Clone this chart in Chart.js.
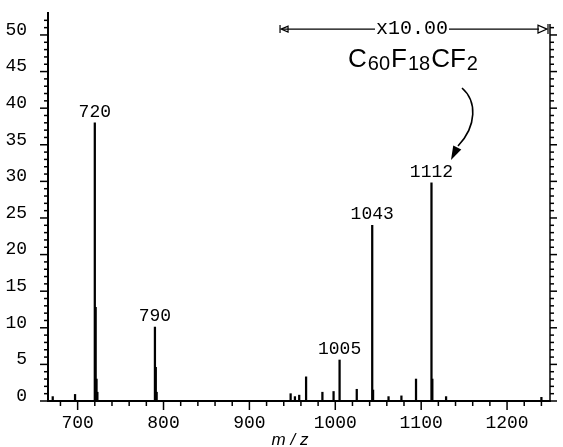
<!DOCTYPE html>
<html>
<head>
<meta charset="utf-8">
<script src="https://cdn.jsdelivr.net/npm/chart.js@4.4.0/dist/chart.umd.min.js"></script>
<style>
  html, body { margin: 0; padding: 0; background: #fff; }
  #wrap { width: 563px; height: 447px; }
</style>
</head>
<body>
<div id="wrap"><canvas id="chart" width="563" height="447"></canvas></div>
<script>
// m/z positions of the sticks and their plotted heights (region above 938 already x10)
const mz = [671, 697, 720, 721, 722, 723, 790, 791, 792, 948, 953, 958, 966, 985, 998, 1005, 1025, 1043, 1044, 1062, 1077, 1094, 1112, 1113, 1129, 1240];
const intensity = [0.6, 0.9, 38.0, 12.8, 3.0, 1.2, 10.1, 4.6, 1.2, 1.0, 0.6, 0.8, 3.3, 1.2, 1.3, 5.6, 1.6, 24.0, 1.5, 0.6, 0.7, 3.0, 29.8, 3.0, 0.6, 0.5];
const labelledPeaks = [720, 790, 1005, 1043, 1112];
const xTicks = [700, 800, 900, 1000, 1100, 1200];
const yTicks = [0, 5, 10, 15, 20, 25, 30, 35, 40, 45, 50];
const zoomStart = 938;   // start of the x10.00 region
const zoomLevel = 50.8;  // height of the x10.00 bracket

const MONO = '"Liberation Mono", "DejaVu Sans Mono", monospace';
const SANS = '"Liberation Sans", Arial, sans-serif';

const noPad = s => {
    s.paddingTop = 0; s.paddingBottom = 0;
    s.paddingLeft = 0; s.paddingRight = 0;
};

const overlay = {
    id: 'overlay',
    afterDraw(chart) {
        const { ctx, scales: { x, y } } = chart;
        const y0 = y.getPixelForValue(0);
        ctx.save();
        ctx.strokeStyle = '#000';
        ctx.fillStyle = '#000';
        ctx.lineWidth = 1.5;

        const seg = (x1, y1, x2, y2) => {
            ctx.beginPath();
            ctx.moveTo(x1, y1);
            ctx.lineTo(x2, y2);
            ctx.stroke();
        };

        // x tick marks, major every 100, minor every 20
        for (let v = 680; v <= 1240; v += 20) {
            const px = x.getPixelForValue(v);
            seg(px, y0, px, y0 + (v % 100 === 0 ? 9 : 5));
        }

        // left y tick marks, major every 5, minor every 1
        for (let v = 0; v <= 52; v++) {
            const py = y.getPixelForValue(v);
            seg(x.left - (v % 5 === 0 ? 8 : 4), py, x.left, py);
        }

        // right axis of the x10 region
        const xr = x.right;
        const rTop = y.getPixelForValue(51.5);
        seg(xr, y0, xr, rTop);
        for (let v = 0; v <= 51; v++) {
            const py = y.getPixelForValue(v);
            seg(xr, py, xr + (v % 5 === 0 ? 7 : 4), py);
        }

        // peak labels
        ctx.font = '18px ' + MONO;
        ctx.textAlign = 'center';
        ctx.textBaseline = 'middle';
        labelledPeaks.forEach(p => {
            const h = intensity[mz.indexOf(p)];
            ctx.fillText(String(p), x.getPixelForValue(p), y.getPixelForValue(h) - 11);
        });

        // x10.00 bracket
        const bx1 = x.getPixelForValue(zoomStart);
        const bx2 = xr - 2;
        const by = y.getPixelForValue(zoomLevel);
        ctx.font = '20px ' + MONO;
        const label = 'x10.00';
        const tw = ctx.measureText(label).width;
        const tx = 412;
        ctx.fillText(label, tx, by);
        ctx.lineWidth = 1.2;
        seg(bx1, by, tx - tw / 2 - 1, by);
        seg(tx + tw / 2 + 1, by, bx2 - 9, by);
        // left end: bar + arrowhead
        seg(bx1 - 2, by - 4, bx1 - 2, by + 4);
        ctx.beginPath();
        ctx.moveTo(bx1 - 1, by);
        ctx.lineTo(bx1 + 6, by - 3);
        ctx.lineTo(bx1 + 6, by + 3);
        ctx.closePath();
        ctx.stroke();
        // right end: open arrowhead + bar
        ctx.beginPath();
        ctx.moveTo(bx2 - 1, by);
        ctx.lineTo(bx2 - 10, by - 4);
        ctx.lineTo(bx2 - 10, by + 4);
        ctx.closePath();
        ctx.stroke();
        seg(bx2, by - 5, bx2, by + 5);

        // formula C60F18CF2
        const parts = [['C', 0], ['60', 1], ['F', 0], ['18', 1], ['CF', 0], ['2', 1]];
        let fx = 348;
        const fy = 67;
        ctx.textAlign = 'left';
        ctx.textBaseline = 'alphabetic';
        parts.forEach(([t, sub]) => {
            ctx.font = sub ? '20px ' + SANS : '26px ' + SANS;
            ctx.fillText(t, fx, sub ? fy + 3 : fy);
            fx += ctx.measureText(t).width + 1;
        });

        // curved arrow to the 1112 peak
        ctx.lineWidth = 1.6;
        ctx.beginPath();
        ctx.moveTo(462, 88);
        ctx.bezierCurveTo(477, 101, 477, 126, 458, 146);
        ctx.stroke();
        const tipX = 451, tipY = 160;
        const ang = Math.atan2(tipY - 146, tipX - 458);
        ctx.beginPath();
        ctx.moveTo(tipX, tipY);
        ctx.lineTo(tipX - 14 * Math.cos(ang) + 4.5 * Math.sin(ang), tipY - 14 * Math.sin(ang) - 4.5 * Math.cos(ang));
        ctx.lineTo(tipX - 14 * Math.cos(ang) - 4.5 * Math.sin(ang), tipY - 14 * Math.sin(ang) + 4.5 * Math.cos(ang));
        ctx.closePath();
        ctx.fill();

        // axis title
        ctx.font = 'italic 17px ' + SANS;
        ctx.textAlign = 'center';
        ctx.textBaseline = 'middle';
        ctx.fillText('m / z', 290, 440);

        ctx.restore();
    }
};

const chart = new Chart(document.getElementById('chart'), {
    type: 'bar',
    data: {
        datasets: [{
            data: mz.map((m, i) => ({ x: m, y: intensity[i] })),
            backgroundColor: '#000',
            borderWidth: 0,
            barThickness: 1.6,
            grouped: false
        }]
    },
    options: {
        responsive: false,
        animation: false,
        layout: { padding: { top: 13, right: 13, left: 0, bottom: 0 } },
        plugins: {
            legend: { display: false },
            tooltip: { enabled: false }
        },
        scales: {
            x: {
                type: 'linear',
                offset: false,
                min: 665.5,
                max: 1250,
                grid: { display: false, offset: false },
                border: { display: true, color: '#000', width: 2 },
                afterBuildTicks: s => { s.ticks = xTicks.map(v => ({ value: v })); },
                afterFit: s => { s.height = 46; noPad(s); },
                ticks: {
                    color: '#000',
                    font: { family: MONO, size: 18 },
                    padding: 3,
                    maxRotation: 0,
                    autoSkip: false,
                    callback: v => String(v)
                }
            },
            y: {
                type: 'linear',
                min: 0,
                max: 53,
                grid: { display: false },
                border: { display: true, color: '#000', width: 2 },
                afterBuildTicks: s => { s.ticks = yTicks.map(v => ({ value: v })); },
                afterFit: s => { s.width = 48; noPad(s); },
                ticks: {
                    color: '#000',
                    font: { family: MONO, size: 18 },
                    padding: 13,
                    labelOffset: -5,
                    callback: v => String(v)
                }
            }
        }
    },
    plugins: [overlay]
});
</script>
</body>
</html>
